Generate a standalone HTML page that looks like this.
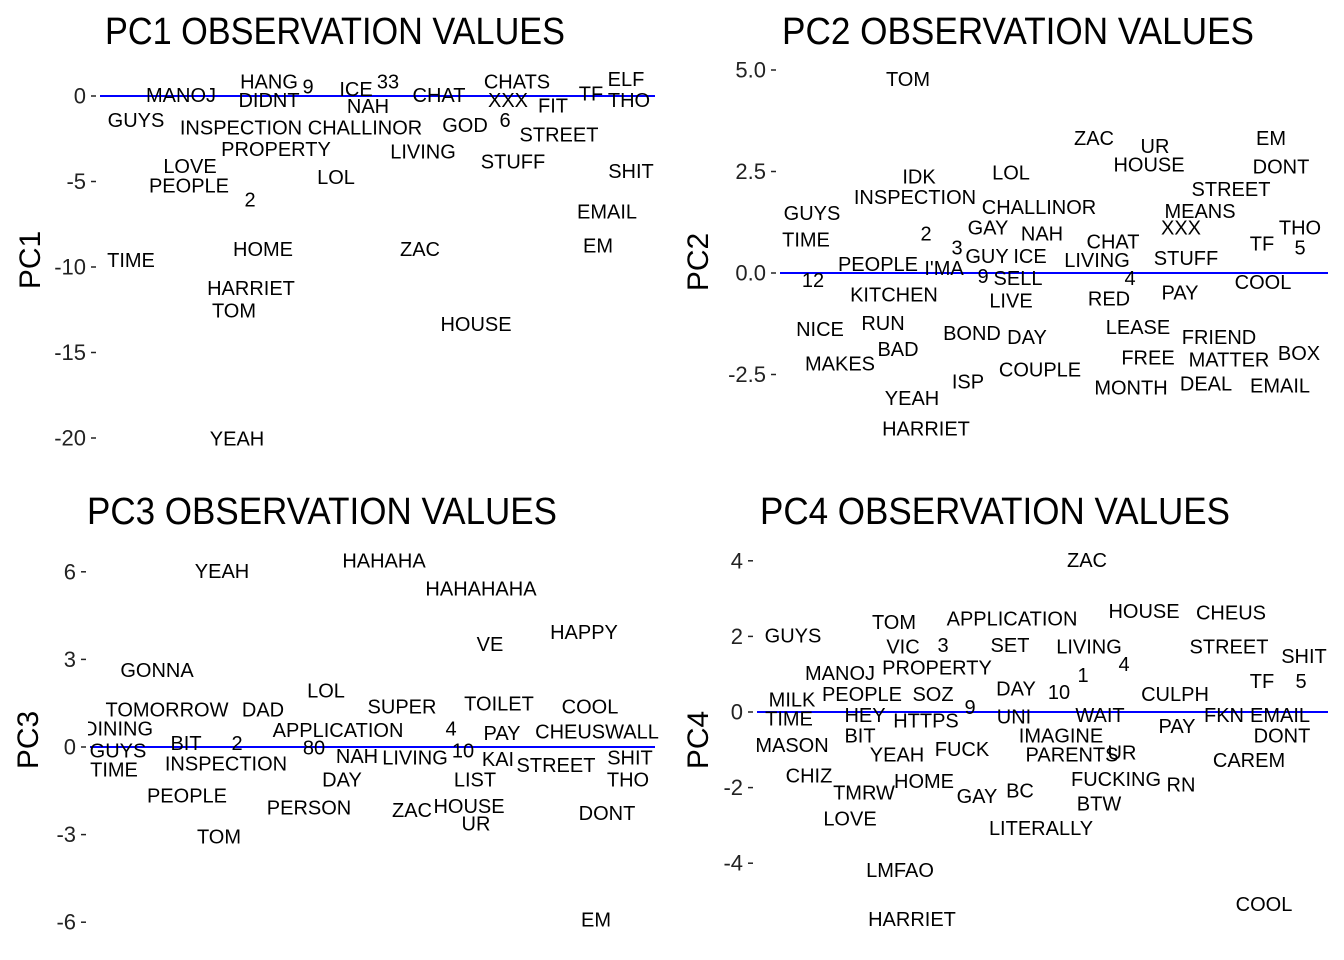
<!DOCTYPE html>
<html><head><meta charset="utf-8"><style>
html,body{margin:0;padding:0;background:#fff;}
svg{display:block;font-family:"Liberation Sans",sans-serif;}
.w{font-size:20px;fill:#000;text-anchor:middle;dominant-baseline:central;}
.tk{font-size:22px;fill:#222;text-anchor:end;dominant-baseline:central;}
.tt{font-size:38px;fill:#000;text-anchor:middle;}
.yt{font-size:30px;fill:#000;text-anchor:middle;}
</style></head><body>
<svg id="c" width="1344" height="960"></svg>
<script>
const NS='http://www.w3.org/2000/svg';
const svg=document.getElementById('c');
// Panel 1 data
const pc1Words=["HANG","9","ICE","33","CHAT","CHATS","ELF","TF","THO","MANOJ","DIDNT","NAH","XXX","FIT","GUYS","INSPECTION","CHALLINOR","GOD","6","STREET","PROPERTY","LIVING","STUFF","LOVE","SHIT","PEOPLE","2","LOL","EMAIL","TIME","HOME","ZAC","EM","HARRIET","TOM","HOUSE","YEAH"];
const pc1X=[169,208,256,288,339,417,526,491,529,81,169,268,408,453,36,141,265,365,405,459,176,323,413,90,531,89,150,236,507,31,163,320,498,151,134,376,137];
const pc1Y=[0.8,0.5,0.35,0.8,0,0.8,0.95,0.1,-0.3,0,-0.3,-0.65,-0.3,-0.6,-1.45,-1.9,-1.9,-1.75,-1.45,-2.3,-3.15,-3.3,-3.9,-4.15,-4.45,-5.3,-6.1,-4.8,-6.8,-9.65,-9.0,-9.0,-8.8,-11.3,-12.6,-13.4,-20.1];
const pc1Ticks=[0,-5,-10,-15,-20];
const pc1TickLabels=["0","-5","-10","-15","-20"];
// Panel 2 data
const pc2Words=["TOM","ZAC","UR","EM","HOUSE","DONT","IDK","LOL","STREET","INSPECTION","GUYS","CHALLINOR","MEANS","GAY","XXX","THO","2","NAH","CHAT","TIME","3","GUY","ICE","LIVING","STUFF","TF","5","PEOPLE","I'MA","9","SELL","4","12","COOL","KITCHEN","LIVE","RED","PAY","NICE","RUN","BOND","DAY","LEASE","FRIEND","BAD","MAKES","FREE","MATTER","BOX","COUPLE","ISP","MONTH","DEAL","EMAIL","YEAH","HARRIET"];
const pc2X=[128,314,375,491,369,501,139,231,451,135,32,259,420,208,401,520,146,262,333,26,177,207,250,317,406,482,520,98,164,203,238,350,33,483,114,231,329,400,40,103,192,247,358,439,118,60,368,449,519,260,188,351,426,500,132,146];
const pc2Y=[4.75,3.3,3.1,3.3,2.65,2.6,2.35,2.45,2.05,1.85,1.45,1.6,1.5,1.1,1.1,1.1,0.95,0.95,0.75,0.8,0.6,0.4,0.4,0.3,0.35,0.7,0.6,0.2,0.1,-0.1,-0.15,-0.15,-0.2,-0.25,-0.55,-0.7,-0.65,-0.5,-1.4,-1.25,-1.5,-1.6,-1.35,-1.6,-1.9,-2.25,-2.1,-2.15,-2.0,-2.4,-2.7,-2.85,-2.75,-2.8,-3.1,-3.85];
const pc2Ticks=[5,2.5,0,-2.5];
const pc2TickLabels=["5.0","2.5","0.0","-2.5"];
// Panel 3 data
const pc3Words=["YEAH","HAHAHA","HAHAHAHA","VE","HAPPY","GONNA","LOL","TOMORROW","DAD","SUPER","TOILET","COOL","DINING","APPLICATION","4","PAY","CHEUSWALL","GUYS","BIT","2","80","NAH","LIVING","10","KAI","STREET","SHIT","TIME","INSPECTION","LIST","THO","DAY","PEOPLE","PERSON","ZAC","HOUSE","UR","DONT","TOM","EM"];
const pc3X=[132,294,391,400,494,67,236,77,173,312,409,500,28,248,361,412,507,28,96,147,224,267,325,373,408,466,540,24,136,385,538,252,97,219,322,379,386,517,129,506];
const pc3Y=[6.0,6.35,5.4,3.5,3.9,2.6,1.9,1.25,1.25,1.35,1.45,1.35,0.6,0.55,0.6,0.45,0.5,-0.15,0.1,0.1,-0.05,-0.35,-0.4,-0.15,-0.45,-0.65,-0.4,-0.8,-0.6,-1.15,-1.15,-1.15,-1.7,-2.1,-2.2,-2.05,-2.65,-2.3,-3.1,-5.95];
const pc3Ticks=[6,3,0,-3,-6];
const pc3TickLabels=["6","3","0","-3","-6"];
// Panel 4 data
const pc4Words=["ZAC","TOM","APPLICATION","HOUSE","CHEUS","GUYS","VIC","3","SET","LIVING","4","STREET","SHIT","MANOJ","PROPERTY","1","DAY","10","TF","5","MILK","PEOPLE","SOZ","CULPH","9","TIME","HEY","HTTPS","UNI","WAIT","FKN","EMAIL","PAY","BIT","IMAGINE","DONT","MASON","YEAH","FUCK","PARENTS","UR","CAREM","CHIZ","TMRW","HOME","GAY","BC","FUCKING","RN","BTW","LOVE","LITERALLY","LMFAO","COOL","HARRIET"];
const pc4X=[330,137,255,387,474,36,146,186,253,332,367,472,547,83,180,326,259,302,505,544,35,105,176,418,213,32,108,169,257,343,467,523,420,103,304,525,35,140,205,315,365,492,52,107,167,220,263,359,424,342,93,284,143,507,155];
const pc4Y=[4.0,2.35,2.45,2.65,2.6,2.0,1.7,1.75,1.75,1.7,1.25,1.7,1.45,1.0,1.15,0.95,0.6,0.5,0.8,0.8,0.3,0.45,0.45,0.45,0.1,-0.2,-0.1,-0.25,-0.15,-0.1,-0.1,-0.1,-0.4,-0.65,-0.65,-0.65,-0.9,-1.15,-1.0,-1.15,-1.1,-1.3,-1.7,-2.15,-1.85,-2.25,-2.1,-1.8,-1.95,-2.45,-2.85,-3.1,-4.2,-5.1,-5.5];
const pc4Ticks=[4,2,0,-2,-4];
const pc4TickLabels=["4","2","0","-2","-4"];

function el(tag,attrs,parent){const e=document.createElementNS(NS,tag);for(const k in attrs)e.setAttribute(k,attrs[k]);(parent||svg).appendChild(e);return e;}
function panel(cfg,words,xs,ys,ticks,tickLabels){
  const g=el('g',{});
  
  
  const yS=v=>cfg.y0+(cfg.yRef-v)*cfg.ppu;
  const xS=v=>cfg.left+v;
  const t=el('text',{x:cfg.tx,y:cfg.ty,class:'tt',textLength:cfg.tl,lengthAdjust:'spacingAndGlyphs'},g);
  t.textContent=cfg.title;
  
  
  const yt=el('text',{x:0,y:0,class:'yt',transform:`translate(${cfg.ytx},${cfg.yty}) rotate(-90)`},g);
  yt.textContent=cfg.ylab;
  
  
  ticks.forEach((v,i)=>{
    const tl=el('text',{x:cfg.left-14,y:yS(v),class:'tk'},g);
    tl.textContent=tickLabels[i];
    
    
    const tm=el('line',{x1:cfg.left-9,x2:cfg.left-4,y1:yS(v),y2:yS(v),stroke:'#222','stroke-width':1.5},g);
    
    
  });
  const zl=el('line',{x1:cfg.left,x2:cfg.right,y1:yS(0),y2:yS(0),stroke:'#0000ff','stroke-width':2},g);
  
  
  const cp=el('clipPath',{id:'cp'+cfg.key},g);
  el('rect',{x:cfg.left-2,y:cfg.top,width:cfg.right-cfg.left+20,height:cfg.bot-cfg.top},cp);
  const wg=el('g',{'clip-path':`url(#cp${cfg.key})`},g);
  words.forEach((w,i)=>{
    const tx=el('text',{x:xS(xs[i]),y:yS(ys[i]),class:'w'},wg);
    tx.textContent=w;
    
    
  });
}
panel({key:'pc1',title:'PC1 OBSERVATION VALUES',tx:335,ty:44,tl:460,ylab:'PC1',ytx:40,yty:260,left:100,right:655,y0:96,yRef:0,ppu:17.1,top:60,bot:470},pc1Words,pc1X,pc1Y,pc1Ticks,pc1TickLabels);
panel({key:'pc2',title:'PC2 OBSERVATION VALUES',tx:1018,ty:44,tl:472,ylab:'PC2',ytx:708,yty:262,left:780,right:1328,y0:273,yRef:0,ppu:40.6,top:60,bot:470},pc2Words,pc2X,pc2Y,pc2Ticks,pc2TickLabels);
panel({key:'pc3',title:'PC3 OBSERVATION VALUES',tx:322,ty:524,tl:470,ylab:'PC3',ytx:38,yty:740,left:90,right:655,y0:747,yRef:0,ppu:29.2,top:540,bot:950},pc3Words,pc3X,pc3Y,pc3Ticks,pc3TickLabels);
panel({key:'pc4',title:'PC4 OBSERVATION VALUES',tx:995,ty:524,tl:470,ylab:'PC4',ytx:708,yty:740,left:757,right:1328,y0:712,yRef:0,ppu:37.8,top:540,bot:950},pc4Words,pc4X,pc4Y,pc4Ticks,pc4TickLabels);
</script>
</body></html>
